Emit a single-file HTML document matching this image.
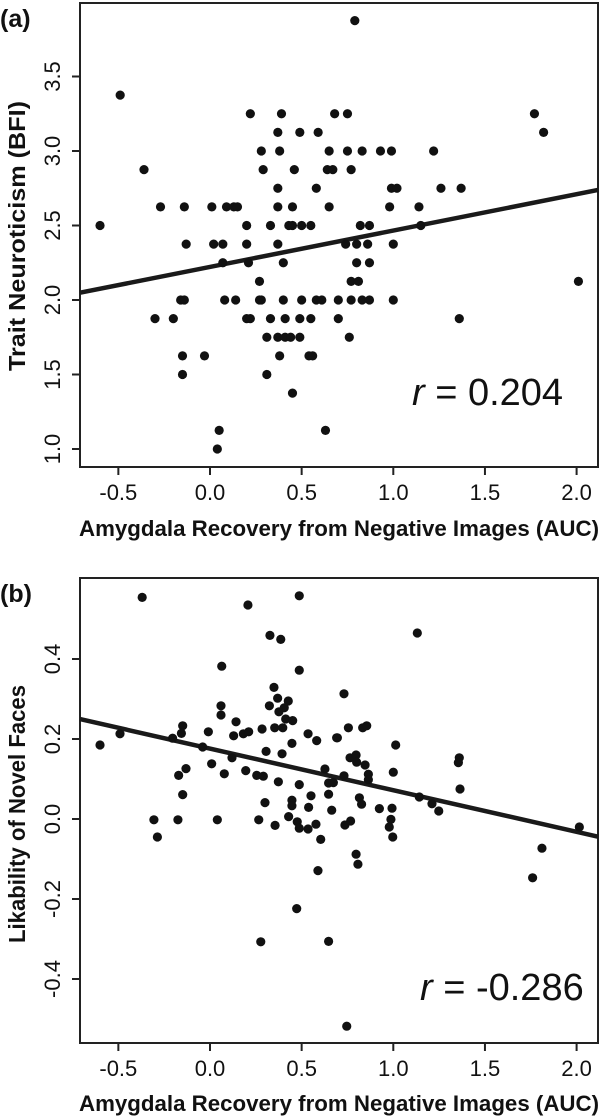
<!DOCTYPE html>
<html><head><meta charset="utf-8"><style>
html,body{margin:0;padding:0;background:#fff;width:603px;height:1117px;overflow:hidden}
svg text{font-family:"Liberation Sans",Arial,sans-serif;fill:#111}
</style></head><body>
<svg id="chart" width="603" height="1117" viewBox="0 0 603 1117" xmlns="http://www.w3.org/2000/svg"></svg>
<script>
// Panel (a) data
const aTicksX = [-0.5, 0.0, 0.5, 1.0, 1.5, 2.0];
const aTickLabelsX = ["-0.5", "0.0", "0.5", "1.0", "1.5", "2.0"];
const aTicksY = [1.0, 1.5, 2.0, 2.5, 3.0, 3.5];
const aTickLabelsY = ["1.0", "1.5", "2.0", "2.5", "3.0", "3.5"];
const aX = [0.79,-0.49,
 0.22,0.39,0.68,0.75,1.77,
 0.37,0.49,0.59,1.82,
 0.28,0.38,0.65,0.75,0.83,0.93,0.99,1.22,
 -0.36,0.29,0.46,0.64,0.67,0.77,
 0.37,0.58,0.99,1.02,1.26,1.37,
 -0.27,-0.14,0.01,0.09,0.13,0.15,0.37,0.45,0.65,0.98,1.14,
 -0.60,0.20,0.33,0.43,0.45,0.50,0.55,0.82,0.87,1.15,
 -0.13,0.02,0.07,0.20,0.37,0.74,0.80,0.86,1.00,
 0.07,0.21,0.40,0.80,0.87,
 0.27,0.77,0.81,2.01,
 -0.16,-0.14,0.08,0.14,0.27,0.28,0.40,0.50,0.58,0.61,0.70,0.77,0.83,0.87,1.00,
 -0.30,-0.20,0.20,0.22,0.33,0.41,0.49,0.55,0.70,1.36,
 0.31,0.37,0.41,0.44,0.49,0.76,
 -0.15,-0.03,0.38,0.54,0.56,
 -0.15,0.31,
 0.45,
 0.05,0.63,
 0.04];
const aY = [3.875,3.375,
 3.25,3.25,3.25,3.25,3.25,
 3.125,3.125,3.125,3.125,
 3.0,3.0,3.0,3.0,3.0,3.0,3.0,3.0,
 2.875,2.875,2.875,2.875,2.875,2.875,
 2.75,2.75,2.75,2.75,2.75,2.75,
 2.625,2.625,2.625,2.625,2.625,2.625,2.625,2.625,2.625,2.625,2.625,
 2.5,2.5,2.5,2.5,2.5,2.5,2.5,2.5,2.5,2.5,
 2.375,2.375,2.375,2.375,2.375,2.375,2.375,2.375,2.375,
 2.25,2.25,2.25,2.25,2.25,
 2.125,2.125,2.125,2.125,
 2.0,2.0,2.0,2.0,2.0,2.0,2.0,2.0,2.0,2.0,2.0,2.0,2.0,2.0,2.0,
 1.875,1.875,1.875,1.875,1.875,1.875,1.875,1.875,1.875,1.875,
 1.75,1.75,1.75,1.75,1.75,1.75,
 1.625,1.625,1.625,1.625,1.625,
 1.5,1.5,
 1.375,
 1.125,1.125,
 1.0];
const aFit = [2.222, 0.244]; // intercept, slope

// Panel (b) data
const bTicksX = [-0.5, 0.0, 0.5, 1.0, 1.5, 2.0];
const bTickLabelsX = ["-0.5", "0.0", "0.5", "1.0", "1.5", "2.0"];
const bTicksY = [-0.4, -0.2, 0.0, 0.2, 0.4];
const bTickLabelsY = ["-0.4", "-0.2", "0.0", "0.2", "0.4"];
const bX = [-0.37,0.207,0.487,0.327,0.386,0.064,0.487,0.349,0.369,0.324,0.427,0.405,0.376,0.060,0.060,0.413,0.451,0.142,-0.149,-0.156,-0.009,0.129,0.182,0.211,0.284,0.353,0.397,0.535,0.582,0.691,-0.491,-0.600,-0.204,-0.040,0.306,0.447,0.393,0.120,-0.131,-0.171,0.009,0.078,0.195,0.255,0.291,0.373,0.487,0.627,0.647,0.673,-0.149,0.551,0.647,0.447,0.447,0.538,0.664,0.300,-0.306,-0.175,0.040,0.266,0.355,0.429,0.476,0.487,0.535,0.578,-0.287,0.604,0.589,0.473,0.277,0.647,
 1.131,0.731,0.755,0.695,0.833,0.855,1.013,0.764,0.797,0.800,0.846,0.864,0.864,1.000,1.360,1.355,1.364,0.731,0.815,0.827,0.924,0.993,0.987,0.978,0.997,0.736,0.767,0.797,0.807,1.142,1.211,1.248,2.015,1.811,1.760,0.746];
const bY = [0.554,0.535,0.558,0.459,0.449,0.382,0.372,0.329,0.302,0.283,0.295,0.278,0.268,0.283,0.260,0.250,0.246,0.243,0.233,0.214,0.218,0.208,0.213,0.218,0.225,0.228,0.228,0.213,0.196,0.203,0.213,0.185,0.202,0.180,0.169,0.189,0.163,0.153,0.126,0.109,0.138,0.113,0.121,0.109,0.107,0.093,0.086,0.125,0.090,0.091,0.061,0.058,0.062,0.047,0.033,0.029,0.022,0.041,-0.002,-0.002,-0.002,-0.002,-0.016,0.006,-0.007,-0.023,-0.025,-0.013,-0.045,-0.051,-0.129,-0.224,-0.307,-0.306,
 0.465,0.313,0.228,0.203,0.228,0.233,0.185,0.153,0.160,0.142,0.135,0.112,0.098,0.117,0.153,0.141,0.075,0.108,0.053,0.037,0.026,0.027,-0.001,-0.020,-0.045,-0.015,-0.005,-0.088,-0.113,0.055,0.038,0.020,-0.020,-0.073,-0.147,-0.518];
const bFit = [0.176, -0.104];

const NS = "http://www.w3.org/2000/svg";
const svg = document.getElementById("chart");
function mk(tag, attrs, parent) {
  const e = document.createElementNS(NS, tag);
  for (const k in attrs) e.setAttribute(k, attrs[k]);
  (parent || svg).appendChild(e);
  return e;
}

function panel(cfg) {
  const g = mk("g", {});
  
  
  const sx = v => cfg.x0px + v * cfg.xScale;
  const sy = v => cfg.y0px - (v - cfg.yBase) * cfg.yScale;
  const L = 80, R = 598, T = cfg.top, B = cfg.bottom;

  const box = mk("rect", {x: L, y: T, width: R - L, height: B - T, fill: "none", stroke: "#222", "stroke-width": 2}, g);
  
  

  cfg.ticksX.forEach((t, i) => {
    const x = sx(t);
    const tk = mk("line", {x1: x, x2: x, y1: B, y2: B + 8, stroke: "#222", "stroke-width": 2}, g);
    
    
    const tx = mk("text", {x: x, y: B + 33, "text-anchor": "middle", "font-size": 22}, g);
    tx.textContent = cfg.labelsX[i];
    
    
  });
  cfg.ticksY.forEach((t, i) => {
    const y = sy(t);
    const tk = mk("line", {x1: L - 8, x2: L, y1: y, y2: y, stroke: "#222", "stroke-width": 2}, g);
    
    
    const tx = mk("text", {x: 60, y: y, "text-anchor": "middle", "font-size": 22, transform: `rotate(-90 60 ${y})`}, g);
    tx.textContent = cfg.labelsY[i];
    
    
  });

  const xt = mk("text", {x: 339, y: cfg.xTitleY, "text-anchor": "middle", "font-size": 22, "font-weight": "bold", textLength: 520, lengthAdjust: "spacingAndGlyphs"}, g);
  xt.textContent = "Amygdala Recovery from Negative Images (AUC)";
  
  
  const yt = mk("text", {x: 25, y: cfg.yTitleY, "text-anchor": "middle", "font-size": 23, "font-weight": "bold", textLength: cfg.yTitleLen, lengthAdjust: "spacingAndGlyphs", transform: `rotate(-90 25 ${cfg.yTitleY})`}, g);
  yt.textContent = cfg.yTitle;
  
  

  const pl = mk("text", {x: 0, y: cfg.labelY, "font-size": 25, "font-weight": "bold"}, g);
  pl.textContent = cfg.panelLabel;
  
  

  const xa = (L - cfg.x0px) / cfg.xScale, xb = (R - cfg.x0px) / cfg.xScale;
  const fit = mk("line", {x1: L, y1: sy(cfg.fit[0] + cfg.fit[1] * xa), x2: R, y2: sy(cfg.fit[0] + cfg.fit[1] * xb), stroke: "#1a1a1a", "stroke-width": 4.5}, g);
  
  

  cfg.xs.forEach((v, i) => {
    const c = mk("circle", {cx: sx(v), cy: sy(cfg.ys[i]), r: 4.6, fill: "#111"}, g);
    
    
  });

  const rt = mk("text", {x: cfg.rX, y: cfg.rY, "font-size": 38}, g);
  
  
  const ri = mk("tspan", {"font-style": "italic"}, rt);
  ri.textContent = "r";
  const rv = mk("tspan", {}, rt);
  rv.textContent = " = " + cfg.rText;
}

panel({name: "panel-a", top: 3, bottom: 467, x0px: 210, xScale: 183.3, y0px: 449, yBase: 1.0, yScale: 149,
  ticksX: aTicksX, labelsX: aTickLabelsX, ticksY: aTicksY, labelsY: aTickLabelsY,
  xTitleY: 536, yTitleY: 236, yTitleLen: 270, yTitle: "Trait Neuroticism (BFI)", panelLabel: "(a)", labelY: 27,
  fit: aFit, xs: aX, ys: aY, rX: 412, rY: 405, rText: "0.204"});
panel({name: "panel-b", top: 578, bottom: 1043, x0px: 210, xScale: 183.3, y0px: 819, yBase: 0, yScale: 400,
  ticksX: bTicksX, labelsX: bTickLabelsX, ticksY: bTicksY, labelsY: bTickLabelsY,
  xTitleY: 1111, yTitleY: 814, yTitleLen: 258, yTitle: "Likability of Novel Faces", panelLabel: "(b)", labelY: 602,
  fit: bFit, xs: bX, ys: bY, rX: 420, rY: 1000, rText: "-0.286"});
</script>
</body></html>
